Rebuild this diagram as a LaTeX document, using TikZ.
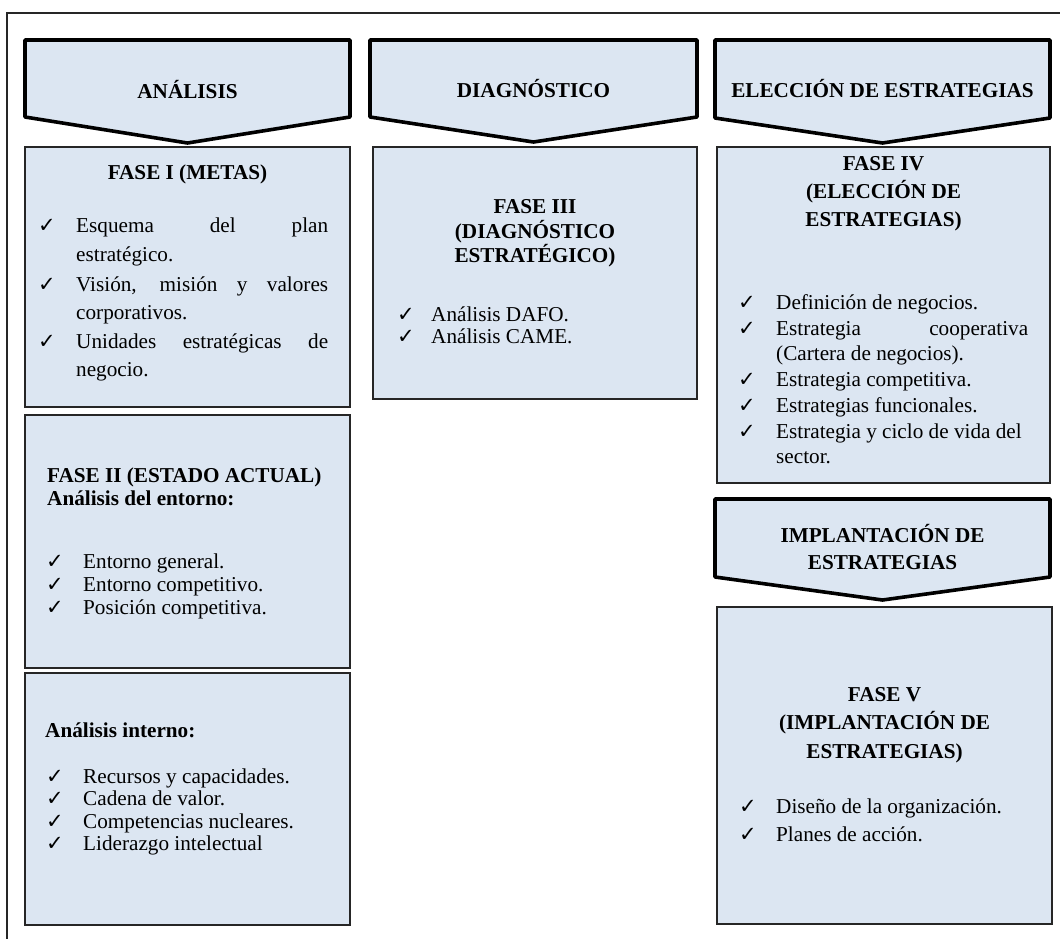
\documentclass[tikz,border=0pt]{standalone}
\usepackage{fontspec}
\setmainfont{Liberation Serif}
\newfontfamily\symfont{DejaVu Sans}
\definecolor{panel}{RGB}{220,230,242}
\tikzset{
  chev/.style={draw=black, line width=3.6pt, line join=round, fill=panel},
  panelbox/.style={draw=black!85, line width=2pt, fill=panel, inner sep=0pt},
  frameline/.style={draw=black!85, line width=1.6pt},
  txt/.style={inner sep=0pt, anchor=base west, font=\fontsize{21.2}{25}\selectfont},
  head/.style={inner sep=0pt, anchor=base, font=\fontsize{21.2}{25}\selectfont\bfseries},
  headl/.style={head, anchor=base west},
  tick/.style={inner sep=0pt, anchor=base west, font=\symfont\fontsize{21}{23}\selectfont},
}
\begin{document}
\begin{tikzpicture}[x=1pt, y=-1pt]
\useasboundingbox (0,0) rectangle (1060,938);
\fill[white] (0,0) rectangle (1060,938);

% outer frame
\draw[frameline] (1062,13) -- (7,13) -- (7,940);

% chevron headers
\draw[chev] (25,40) -- (350,40) -- (350,117) -- (187.5,143) -- (25,117) -- cycle;
\node[head] (hAnalisis) at (187.5,98) {ANÁLISIS};
\draw[chev] (370,40) -- (697,40) -- (697,117) -- (533.5,142) -- (370,117) -- cycle;
\node[head] (hDiag) at (533.5,97) {DIAGNÓSTICO};
\draw[chev] (715,40) -- (1050,40) -- (1050,118) -- (882.5,143) -- (715,118) -- cycle;
\node[head] (hEleccion) at (882.5,97) {ELECCIÓN DE ESTRATEGIAS};
\draw[chev] (715,499) -- (1050,499) -- (1050,577) -- (882.5,600) -- (715,577) -- cycle;
\node[head] (hImpl1) at (882.5,542) {IMPLANTACIÓN DE};
\node[head] (hImpl2) at (882.5,569) {ESTRATEGIAS};

% panels
\node[panelbox, minimum width=325pt, minimum height=260pt] (b1) at (187.5,277) {};
\node[panelbox, minimum width=325pt, minimum height=253pt] (b2) at (187.5,541.5) {};
\node[panelbox, minimum width=325pt, minimum height=252pt] (b3) at (187.5,799) {};
\node[panelbox, minimum width=324pt, minimum height=252pt] (b4) at (535,273) {};
\node[panelbox, minimum width=333pt, minimum height=336pt] (b5) at (883.5,315) {};
\node[panelbox, minimum width=335pt, minimum height=317pt] (b6) at (884.5,765.5) {};

% FASE I
\node[head] (f1) at (187.5,179) {FASE I (METAS)};
\node[tick] (k1a) at (38,232) {✓};
\node[txt] (t1a) at (76,232) {\makebox[252pt][s]{Esquema del plan}};
\node[txt] (t1b) at (76,261) {estratégico.};
\node[tick] (k1b) at (38,291) {✓};
\node[txt] (t1c) at (76,291) {\makebox[252pt][s]{Visión, misión y valores}};
\node[txt] (t1d) at (76,319) {corporativos.};
\node[tick] (k1c) at (38,348) {✓};
\node[txt] (t1e) at (76,348) {\makebox[252pt][s]{Unidades estratégicas de}};
\node[txt] (t1f) at (76,376) {negocio.};

% FASE II
\node[headl] (f2) at (47,482) {FASE II (ESTADO ACTUAL)};
\node[headl] (f2s) at (47,505) {Análisis del entorno:};
\node[tick] (k2a) at (46,568) {✓};
\node[txt] (t2a) at (83,568) {Entorno general.};
\node[tick] (k2b) at (46,591) {✓};
\node[txt] (t2b) at (83,591) {Entorno competitivo.};
\node[tick] (k2c) at (46,614) {✓};
\node[txt] (t2c) at (83,614) {Posición competitiva.};

% internal analysis
\node[headl] (f2i) at (45,737) {Análisis interno:};
\node[tick] (k3a) at (46,783) {✓};
\node[txt] (t3a) at (83,783) {Recursos y capacidades.};
\node[tick] (k3b) at (46,805) {✓};
\node[txt] (t3b) at (83,805) {Cadena de valor.};
\node[tick] (k3c) at (46,828) {✓};
\node[txt] (t3c) at (83,828) {Competencias nucleares.};
\node[tick] (k3d) at (46,850) {✓};
\node[txt] (t3d) at (83,850) {Liderazgo intelectual};

% FASE III
\node[head] (f3a) at (535,213) {FASE III};
\node[head] (f3b) at (535,238) {(DIAGNÓSTICO};
\node[head] (f3c) at (535,262) {ESTRATÉGICO)};
\node[tick] (k4a) at (397,321) {✓};
\node[txt] (t4a) at (431,321) {Análisis DAFO.};
\node[tick] (k4b) at (397,343) {✓};
\node[txt] (t4b) at (431,343) {Análisis CAME.};

% FASE IV
\node[head] (f4a) at (883.5,170) {FASE IV};
\node[head] (f4b) at (883.5,198) {(ELECCIÓN DE};
\node[head] (f4c) at (883.5,226) {ESTRATEGIAS)};
\node[tick] (k5a) at (738,309) {✓};
\node[txt] (t5a) at (776,309) {Definición de negocios.};
\node[tick] (k5b) at (738,335) {✓};
\node[txt] (t5b) at (776,335) {\makebox[252pt][s]{Estrategia cooperativa}};
\node[txt] (t5c) at (776,360) {(Cartera de negocios).};
\node[tick] (k5c) at (738,386) {✓};
\node[txt] (t5d) at (776,386) {Estrategia competitiva.};
\node[tick] (k5d) at (738,412) {✓};
\node[txt] (t5e) at (776,412) {Estrategias funcionales.};
\node[tick] (k5e) at (738,438) {✓};
\node[txt] (t5f) at (776,438) {Estrategia y ciclo de vida del};
\node[txt] (t5g) at (776,463) {sector.};

% FASE V
\node[head] (f5a) at (884.5,701) {FASE V};
\node[head] (f5b) at (884.5,729) {(IMPLANTACIÓN DE};
\node[head] (f5c) at (884.5,758) {ESTRATEGIAS)};
\node[tick] (k6a) at (739,813) {✓};
\node[txt] (t6a) at (776,813) {Diseño de la organización.};
\node[tick] (k6b) at (739,841) {✓};
\node[txt] (t6b) at (776,841) {Planes de acción.};
\end{tikzpicture}
\end{document}
